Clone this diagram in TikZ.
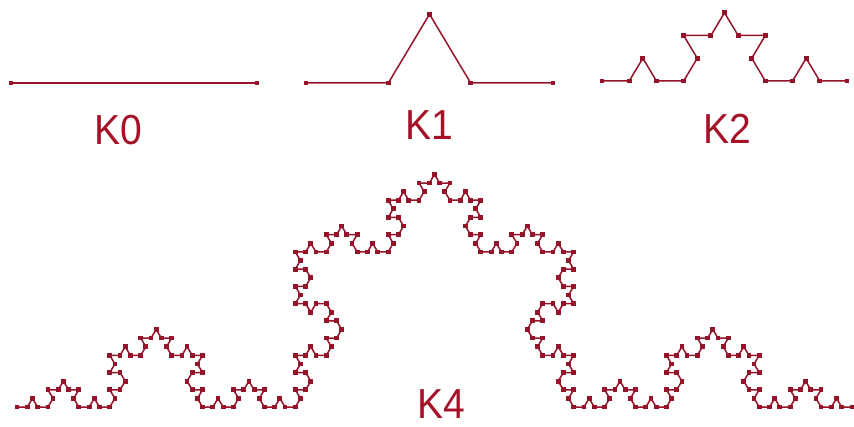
\documentclass[tikz,border=0pt]{standalone}
\usepackage{fontspec}
\setmainfont{Liberation Sans}
\definecolor{kred}{RGB}{150,20,42}
\definecolor{ktext}{RGB}{165,18,40}
\tikzset{
  kline/.style={draw=kred, line width=1.5pt, line join=round},
  kdot/.style={fill=kred, rectangle, inner sep=0pt, minimum size=4.8pt},
  klabel/.style={text=ktext, inner sep=0pt, font=\fontsize{42}{42}\selectfont}
}
\newcommand\kochpath[3]{% #1 level, #2 start, #3 length
  \pgfmathtruncatemacro\kn{4^#1-1}
  \pgfmathsetmacro\kl{#3/3^#1}
  \draw[kline] (#2) node[kdot]{}
    \foreach \i [evaluate=\i as \ka using {60*((mod(\i,4)==1)-(mod(\i,4)==2))
      +60*((mod(int(\i/4),4)==1)-(mod(int(\i/4),4)==2))
      +60*((mod(int(\i/16),4)==1)-(mod(int(\i/16),4)==2))
      +60*((mod(int(\i/64),4)==1)-(mod(int(\i/64),4)==2))}] in {0,...,\kn}
      { -- ++(\ka:\kl) node[kdot]{} };
}
\begin{document}
\begin{tikzpicture}[x=1pt,y=1pt]
\useasboundingbox (0,0) rectangle (854,426);
\fill[white] (0,0) rectangle (854,426);
% K0
\begin{scope}[shift={(11,343)}, yscale=0.965]
  \kochpath{0}{0,0}{246}
\end{scope}
% K1
\begin{scope}[shift={(306,343)}, yscale=0.965]
  \kochpath{1}{0,0}{247}
\end{scope}
% K2
\begin{scope}[shift={(602,345)}, yscale=0.965]
  \kochpath{2}{0,0}{245}
\end{scope}
% K4
\begin{scope}[shift={(17,19)}, yscale=0.965]
  \kochpath{4}{0,0}{835}
\end{scope}
\node[klabel, xscale=0.93] (l0) at (118,296) {K0};
\node[klabel, xscale=0.93] (l1) at (429,301) {K1};
\node[klabel, xscale=0.93] (l2) at (727,297) {K2};
\node[klabel, xscale=0.93] (l4) at (441,22) {K4};
\end{tikzpicture}
\end{document}
